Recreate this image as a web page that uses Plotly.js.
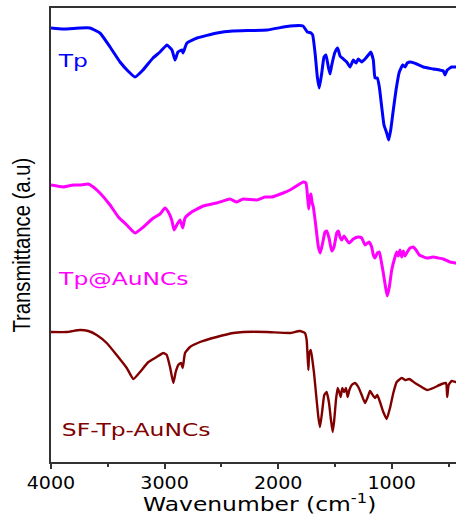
<!DOCTYPE html>
<html>
<head>
<meta charset="utf-8">
<script src="https://cdn.plot.ly/plotly-3.0.1.min.js"></script>
<style>html,body{margin:0;padding:0;background:#fff;}</style>
</head>
<body>
<div id="chart" style="width:456px;height:515px;"></div>
<script>
// Wavenumber (cm^-1) and transmittance (a.u., offset stacked)
const tpWn = [4000,3894,3745,3657,3569,3480,3392,3322,3260,3190,3102,3040,2979,2935,2908,2882,2847,2838,2803,2714,2538,2398,2098,1896,1781,1743,1711,1696,1675,1655,1638,1616,1596,1579,1558,1543,1528,1499,1476,1455,1426,1396,1367,1338,1314,1294,1264,1235,1206,1185,1162,1147,1127,1109,1088,1068,1044,1027,1009,986,962,933,903,883,863,833,780,722,634,546,531,511,472,437,400];
const tpT  = [434,433,434,434,429,415,400,391,385,392,404,410,417,412,402,410,412,409,419,424,429,431,432,436,436,430,429,427,409,385,374,389,405,407,395,388,397,410,414,406,403,400,395,402,399,403,400,403,407,410,402,384,384,375,355,337,329,322,332,352,372,390,397,395,399,400,398,395,393,391,387,392,395,395,396];

const auWn = [4000,3892,3804,3745,3672,3628,3569,3480,3407,3333,3260,3187,3099,3040,2996,2967,2937,2917,2893,2864,2840,2820,2761,2659,2541,2424,2365,2307,2189,2116,2057,1955,1896,1778,1755,1740,1731,1720,1711,1702,1690,1667,1646,1629,1608,1587,1572,1552,1528,1508,1484,1470,1455,1440,1420,1396,1374,1338,1294,1264,1235,1200,1176,1162,1147,1127,1109,1094,1074,1053,1039,1021,1000,971,956,942,927,912,898,883,863,839,810,786,757,692,634,590,546,487,437,400];
const auT  = [277,275,277,277,278,275,269,257,245,237,229,235,244,248,254,250,242,232,237,242,234,244,250,256,259,263,260,263,262,265,265,269,272,280,279,264,253,265,268,260,255,235,215,209,219,230,231,224,211,215,229,231,225,222,226,222,219,223,225,224,217,220,215,207,204,209,210,202,189,174,166,175,192,205,210,206,212,205,211,206,210,214,215,212,207,204,205,204,203,200,199,198];

const sfWn = [4000,3862,3745,3672,3598,3510,3422,3333,3275,3216,3143,3069,3011,2981,2952,2923,2902,2879,2855,2840,2820,2776,2688,2541,2395,2307,2101,1896,1808,1764,1749,1734,1726,1713,1702,1684,1667,1646,1631,1611,1594,1573,1552,1535,1520,1506,1491,1476,1462,1449,1435,1418,1403,1388,1373,1352,1323,1294,1264,1235,1211,1191,1168,1147,1127,1103,1074,1044,1015,986,956,912,883,845,795,736,687,634,560,522,511,499,472,437,400];
const sfT  = [130,130,132,131,127,119,107,94,83,90,100,105,109,107,95,79,90,97,99,94,109,115,120,125,129,130,130,129,131,129,122,92,109,112,105,89,69,45,35,52,67,70,59,42,30,42,62,74,70,65,74,70,74,65,72,77,79,75,67,59,65,71,67,64,67,60,50,43,54,69,80,84,82,83,79,75,72,74,78,79,65,77,81,80,80];

const seriesNames = ["Tp", "Tp@AuNCs", "SF-Tp-AuNCs"];
const xTickVals = [4000, 3000, 2000, 1000];
const xTickText = ["4000", "3000", "2000", "1000"];
const xMinorVals = [3500, 2500, 1500, 500];
const xTitle = "Wavenumber (cm<sup>-1</sup>)";
const yTitle = "Transmittance (a.u)";

const colors = ["#0000FF", "#FF00FF", "#800000"];
const widths = [3, 3, 2.4];
const wns = [tpWn, auWn, sfWn];
const ts = [tpT, auT, sfT];

const traces = seriesNames.map((n, i) => ({
  type: "scatter", mode: "lines", name: n,
  x: wns[i], y: ts[i],
  line: {color: colors[i], width: widths[i], shape: "spline", smoothing: 0.4},
  hoverinfo: "skip"
}));

// label centres (wavenumber, transmittance)
const labelPos = [[3815, 402], [3366, 184], [3252, 33]];
const annotations = seriesNames.map((n, i) => ({
  x: labelPos[i][0], y: labelPos[i][1], xref: "x", yref: "y",
  text: n, showarrow: false, xanchor: "center", yanchor: "middle",
  font: {family: "DejaVu Sans", size: 18, color: colors[i]}
}));
// axis titles placed as annotations so they sit where the original has them
annotations.push({
  x: 0.5136, y: -0.0895, xref: "paper", yref: "paper",
  text: xTitle, showarrow: false, xanchor: "center", yanchor: "middle",
  font: {family: "DejaVu Sans", size: 20, color: "#000"}
});
annotations.push({
  x: -0.0716, y: 0.4769, xref: "paper", yref: "paper",
  text: yTitle, showarrow: false, xanchor: "center", yanchor: "middle", textangle: -90,
  font: {family: "Liberation Sans", size: 23, color: "#000"}
});

const layout = {
  width: 456, height: 515,
  margin: {l: 51, r: 0, t: 8, b: 53},
  paper_bgcolor: "#fff", plot_bgcolor: "#fff",
  showlegend: false,
  xaxis: {
    range: [4000, 434],
    tickmode: "array", tickvals: xTickVals, ticktext: xTickText,
    ticks: "outside", ticklen: 5, tickwidth: 2, tickcolor: "#333",
    minor: {tickvals: xMinorVals, ticks: "outside", ticklen: 3, tickwidth: 2, tickcolor: "#333"},
    showline: true, linecolor: "#333", linewidth: 2, mirror: true,
    showgrid: false, zeroline: false,
    tickfont: {family: "DejaVu Sans", size: 17, color: "#000"}
  },
  yaxis: {
    range: [0, 454],
    showticklabels: false, ticks: "",
    showline: true, linecolor: "#333", linewidth: 2,
    showgrid: false, zeroline: false
  },
  annotations: annotations
};

function stretchEl(t, f) {
  const w = t.getComputedTextLength();
  if (w > 0) {
    t.setAttribute("textLength", (w * f).toFixed(1));
    t.setAttribute("lengthAdjust", "spacingAndGlyphs");
  }
}

const annStretch = [1.3, 1.3, 1.3, 1.17, 0.88];
Plotly.newPlot("chart", traces, layout, {staticPlot: true, displayModeBar: false}).then(() => {
  document.querySelectorAll("#chart .xtick text").forEach(t => stretchEl(t, 1.12));
  document.querySelectorAll("#chart .annotation-text").forEach((t, i) => stretchEl(t, annStretch[i] || 1));
});
</script>
</body>
</html>
